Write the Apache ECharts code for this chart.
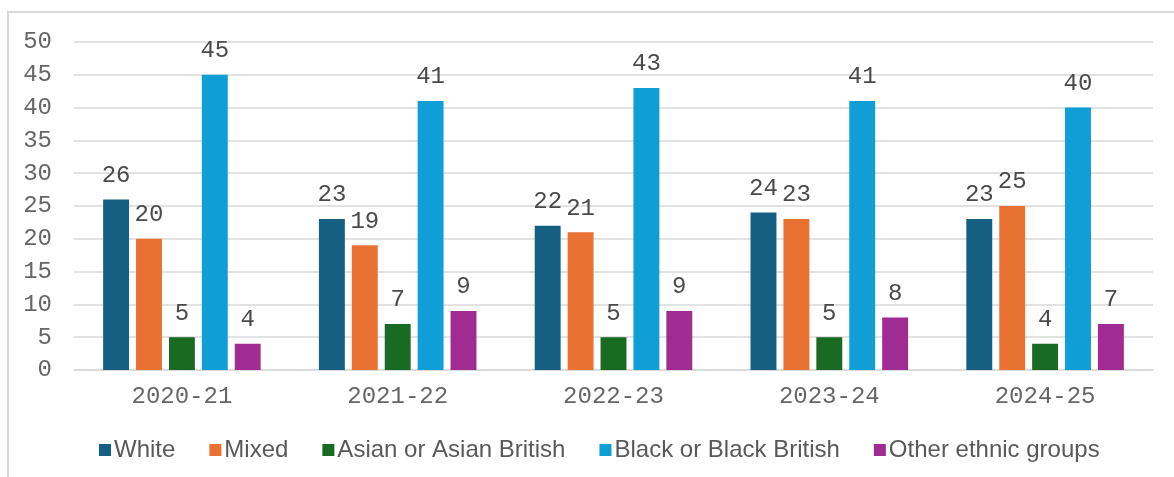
<!DOCTYPE html>
<html>
<head>
<meta charset="utf-8">
<script src="https://cdn.jsdelivr.net/npm/echarts@6/dist/echarts.min.js"></script>
<style>html,body{margin:0;padding:0;background:#fff;}#c{width:1174px;height:477px;}</style>
</head>
<body>
<div id="c"></div>
<script>
const categories = ['2020-21', '2021-22', '2022-23', '2023-24', '2024-25'];
const seriesNames = ['White', 'Mixed', 'Asian or Asian British', 'Black or Black British', 'Other ethnic groups'];
const white = [26, 23, 22, 24, 23];
const mixed = [20, 19, 21, 23, 25];
const asian = [5, 7, 5, 5, 4];
const black = [45, 41, 43, 41, 40];
const other = [4, 9, 9, 8, 7];
const colors = ['#156082', '#E97132', '#196B24', '#0F9ED5', '#A02B93'];
const yTicks = {min: 0, max: 50, interval: 5};

const allValues = [white, mixed, asian, black, other];
const mono = '"Liberation Mono", "Courier New", monospace';
const chart = echarts.init(document.getElementById('c'));
chart.setOption({
  animation: false,
  color: colors,
  graphic: [{
    type: 'rect', shape: {x: 8, y: 12, width: 1300, height: 600},
    style: {fill: 'none', stroke: '#d9d9d9', lineWidth: 2}, silent: true
  }],
  grid: {left: 74, right: 21, top: 42, bottom: 107, containLabel: false},
  legend: {
    bottom: 10, left: 94, itemWidth: 12, itemHeight: 12, itemGap: 34,
    icon: 'rect',
    textStyle: {fontFamily: '"Liberation Sans", Arial, sans-serif', fontSize: 24, color: '#595959', padding: [0, 0, 0, -2]},
    data: seriesNames
  },
  xAxis: {
    type: 'category', data: categories,
    axisTick: {show: false},
    axisLine: {lineStyle: {color: '#d9d9d9', width: 1.5}},
    axisLabel: {fontFamily: mono, fontSize: 24, color: '#666666', margin: 15}
  },
  yAxis: {
    type: 'value', min: yTicks.min, max: yTicks.max, interval: yTicks.interval,
    axisLine: {show: false}, axisTick: {show: false},
    splitLine: {lineStyle: {color: '#d9d9d9', width: 1.5}},
    axisLabel: {fontFamily: mono, fontSize: 24, color: '#666666', margin: 22}
  },
  series: allValues.map((vals, i) => ({
    name: seriesNames[i], type: 'bar', data: vals,
    barGap: '27%', barCategoryGap: '27%',
    label: {show: true, position: 'top', distance: 12, fontFamily: mono, fontSize: 24, color: '#4a4a4a'}
  }))
});
</script>
</body>
</html>
